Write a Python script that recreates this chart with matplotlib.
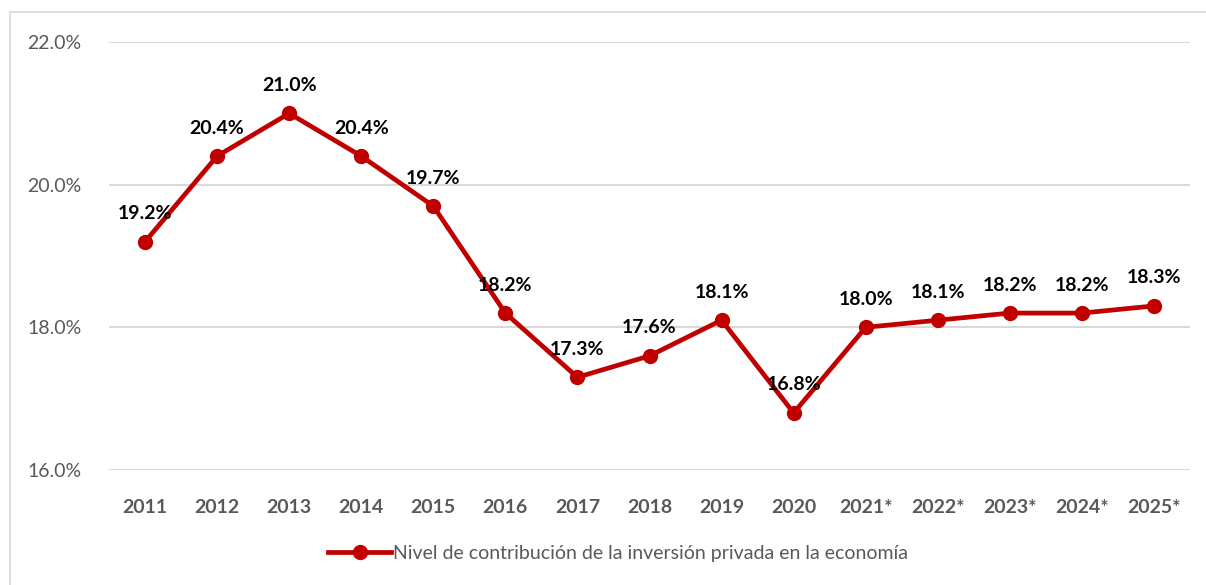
import matplotlib
matplotlib.use("Agg")
import matplotlib.pyplot as plt
from matplotlib.patches import Rectangle

years = ["2011", "2012", "2013", "2014", "2015", "2016", "2017", "2018",
         "2019", "2020", "2021*", "2022*", "2023*", "2024*", "2025*"]
values = [19.2, 20.4, 21.0, 20.4, 19.7, 18.2, 17.3, 17.6, 18.1, 16.8,
          18.0, 18.1, 18.2, 18.2, 18.3]
yticks = [16.0, 18.0, 20.0, 22.0]
series_name = "Nivel de contribución de la inversión privada en la economía"

RED = "#C00000"
GRAY = "#595959"
plt.rcParams["font.family"] = ["Lato", "DejaVu Sans"]

fig = plt.figure(figsize=(12.06, 5.85), dpi=100)
# chart-area border (runs off the right and bottom edges in the source)
fig.patches.append(Rectangle((10 / 1206, -0.1), 1.2, 1 - 12 / 585 + 0.1,
                             transform=fig.transFigure, fill=False,
                             edgecolor="#D9D9D9", linewidth=1.2))
ax = fig.add_axes([109 / 1206, 1 - 470 / 585, 1081 / 1206, 428 / 585])

x = list(range(len(years)))
ax.plot(x, values, color=RED, linewidth=3.4, marker="o", markersize=10,
        label=series_name, zorder=3)
for xi, v in zip(x, values):
    ax.annotate(f"{v:.1f}%", (xi, v), xytext=(0, 14), textcoords="offset points",
                ha="center", va="bottom", fontsize=14, fontweight="bold", color="black")

ax.set_xlim(-0.5, len(years) - 0.5)
ax.set_ylim(16, 22)
ax.set_yticks(yticks)
ax.set_yticklabels([f"{t:.1f}%" for t in yticks], fontsize=14, color=GRAY)
ax.set_xticks(x)
ax.set_xticklabels(years, fontsize=14, fontweight="bold", color=GRAY)
ax.tick_params(length=0)
ax.tick_params(axis="x", pad=21)
ax.tick_params(axis="y", pad=20)
ax.grid(axis="y", color="#D9D9D9", linewidth=1.5)
for s in ax.spines.values():
    s.set_visible(False)
ax.set_axisbelow(True)

fig.legend(loc="center", bbox_to_anchor=(618 / 1206, 1 - 553 / 585), frameon=False,
           fontsize=14, handlelength=3.2, handletextpad=0.1, labelcolor=GRAY)

fig.savefig("out.png", dpi=100, facecolor="white")
